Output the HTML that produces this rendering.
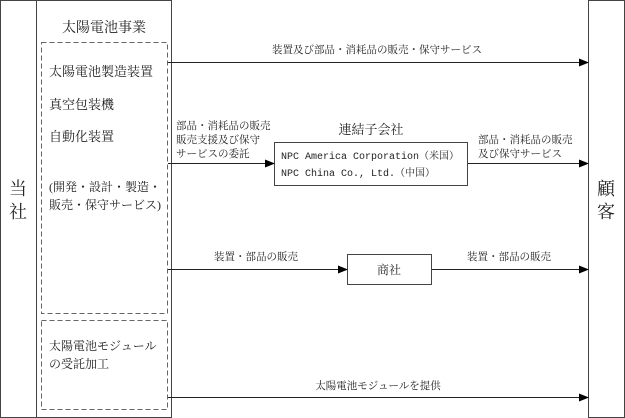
<!DOCTYPE html>
<html><head><meta charset="utf-8"><style>
html,body{margin:0;padding:0;background:#fff}
svg{display:block}
text{font-family:"Liberation Serif","Noto Serif CJK SC","Noto Sans CJK JP",serif;fill:#222}
.m{font-family:"Liberation Mono","Noto Serif CJK SC",monospace}
</style></head><body>
<svg width="625" height="418" viewBox="0 0 625 418" xmlns="http://www.w3.org/2000/svg">
<defs><marker id="a" markerWidth="10" markerHeight="8" refX="9" refY="4" orient="auto" markerUnits="userSpaceOnUse"><path d="M0,0 L10,4 L0,8 z" fill="#000"/></marker></defs>
<g fill="none" stroke="#444" stroke-width="1">
<rect x="0.5" y="0.5" width="36" height="417"/>
<rect x="36.5" y="0.5" width="135" height="417"/>
<rect x="588.5" y="0.5" width="36" height="417"/>
<rect x="41.5" y="42.5" width="126" height="271" stroke-dasharray="5,3" stroke="#666"/>
<rect x="41.5" y="320.5" width="126" height="89" stroke-dasharray="5,3" stroke="#666"/>
<rect x="274.5" y="142.5" width="193" height="43"/>
<rect x="347.5" y="254.5" width="84" height="30"/>
</g>
<g stroke="#222" stroke-width="1">
<line x1="168" y1="62.5" x2="588" y2="62.5" marker-end="url(#a)"/>
<line x1="168" y1="163.5" x2="274" y2="163.5" marker-end="url(#a)"/>
<line x1="468" y1="163.5" x2="588" y2="163.5" marker-end="url(#a)"/>
<line x1="168" y1="269.5" x2="347" y2="269.5" marker-end="url(#a)"/>
<line x1="432" y1="269.5" x2="588" y2="269.5" marker-end="url(#a)"/>
<line x1="168" y1="397.5" x2="588" y2="397.5" marker-end="url(#a)"/>
</g>
<text x="18" y="195" font-size="18" text-anchor="middle">当</text>
<text x="18" y="218" font-size="18" text-anchor="middle">社</text>
<text x="606" y="195" font-size="18" text-anchor="middle">顧</text>
<text x="606" y="218" font-size="18" text-anchor="middle">客</text>
<text x="104" y="32" font-size="14" text-anchor="middle">太陽電池事業</text>
<text x="49" y="76" font-size="13">太陽電池製造装置</text>
<text x="49" y="109" font-size="13">真空包装機</text>
<text x="49" y="141" font-size="13">自動化装置</text>
<text x="49" y="191" font-size="12">(開発・設計・製造・</text>
<text x="49" y="209" font-size="12">販売・保守サービス)</text>
<text x="49" y="350" font-size="12">太陽電池モジュール</text>
<text x="49" y="368" font-size="12">の受託加工</text>
<text x="377" y="53" font-size="10.5" text-anchor="middle">装置及び部品・消耗品の販売・保守サービス</text>
<text x="176" y="129" font-size="10.5">部品・消耗品の販売</text>
<text x="176" y="143" font-size="10.5">販売支援及び保守</text>
<text x="176" y="157" font-size="10.5">サービスの委託</text>
<text x="371" y="134" font-size="13" text-anchor="middle">連結子会社</text>
<text class="m" x="281" y="159" font-size="10">NPC America Corporation（米国）</text>
<text class="m" x="281" y="176" font-size="10">NPC China Co., Ltd.（中国）</text>
<text x="478" y="143" font-size="10.5">部品・消耗品の販売</text>
<text x="478" y="157" font-size="10.5">及び保守サービス</text>
<text x="256" y="260" font-size="10.5" text-anchor="middle">装置・部品の販売</text>
<text x="389" y="274" font-size="12" text-anchor="middle">商社</text>
<text x="509" y="260" font-size="10.5" text-anchor="middle">装置・部品の販売</text>
<text x="378" y="389" font-size="10.5" text-anchor="middle">太陽電池モジュールを提供</text>
</svg>
</body></html>
